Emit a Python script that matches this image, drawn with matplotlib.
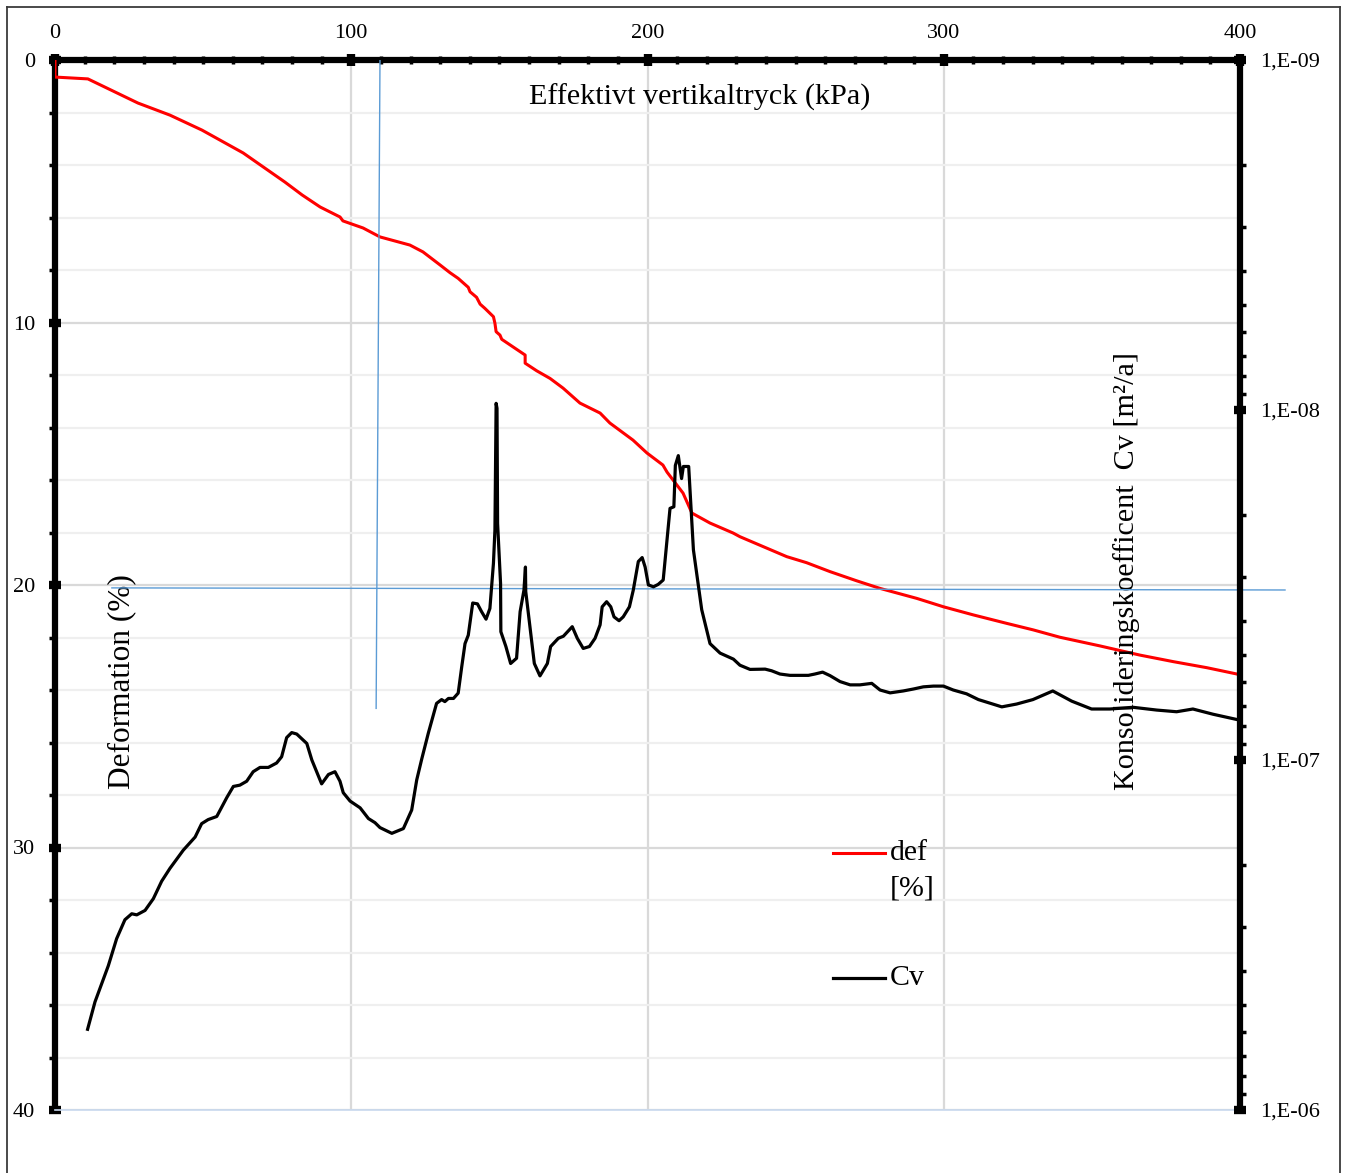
import numpy as np
import matplotlib
matplotlib.use("Agg")
import matplotlib.pyplot as plt
from matplotlib.lines import Line2D
from matplotlib.ticker import MultipleLocator, FixedLocator, FuncFormatter, LogLocator, NullFormatter

plt.rcParams['font.family'] = ['Liberation Serif', 'DejaVu Serif']

# deformation curve: effective vertical pressure (kPa) vs deformation (%)
p_def = [0, 0, 11.1, 28.0, 38.8, 49.6, 63.5, 77.6, 83.4, 89.5, 96.2, 97.2, 104.0, 109.7,
         119.8, 124.2, 130.0, 133.3, 136.1, 139.5, 140.1, 142.3, 143.5, 145.1, 148.0, 148.5,
         148.9, 150.2, 150.8, 155.8, 158.7, 158.7, 162.6, 167.1, 171.5, 177.2, 184.0, 187.3,
         195.1, 199.8, 205.2, 206.6, 212.0, 215.0, 221.1, 228.9, 231.2, 239.1, 247.0, 253.7,
         261.6, 270.6, 278.5, 290.9, 299.9, 310.0, 321.2, 330.2, 339.2, 352.7, 366.2, 377.5,
         388.8, 398.9, 400.0]
deformation = [0, 0.65, 0.72, 1.64, 2.10, 2.67, 3.54, 4.65, 5.14, 5.60, 5.98, 6.13, 6.40, 6.74,
               7.05, 7.31, 7.81, 8.10, 8.32, 8.66, 8.83, 9.04, 9.30, 9.46, 9.78, 10.03,
               10.35, 10.48, 10.64, 11.02, 11.24, 11.55, 11.84, 12.13, 12.50, 13.07, 13.45, 13.83,
               14.48, 14.97, 15.43, 15.70, 16.50, 17.26, 17.64, 18.02, 18.16, 18.54, 18.92, 19.15,
               19.49, 19.84, 20.13, 20.51, 20.83, 21.14, 21.46, 21.71, 21.99, 22.32, 22.67, 22.92,
               23.15, 23.39, 23.43]

# consolidation coefficient Cv (m2/a)
p_cv = [11.0, 13.5, 18.0, 20.8, 23.6, 25.9, 27.6, 30.4, 33.2, 36.0, 38.8, 40.5, 43.3, 47.3,
        49.5, 51.7, 54.6, 58.0, 60.2, 62.4, 64.7, 66.9, 69.2, 72.0, 74.8, 76.5, 78.2, 79.9,
        81.6, 85.0, 86.7, 90.0, 92.3, 94.5, 96.2, 97.3, 99.6, 103.0, 105.8, 108.0, 109.7,
        113.7, 117.6, 120.4, 122.1, 123.8, 126.0, 128.8, 130.5, 131.6, 132.8, 134.5, 136.1,
        137.3, 138.4, 139.5, 141.0, 142.6, 144.0, 145.5, 146.8, 148.0, 148.5, 148.9, 149.2,
        149.4, 150.4, 150.5, 152.2, 153.8, 155.8, 157.0, 158.3, 158.8, 158.9, 160.3, 161.8,
        163.7, 166.2, 167.3, 169.9, 171.6, 174.6, 176.3, 178.3, 180.4, 182.3, 184.0, 184.7,
        186.2, 187.6, 188.7, 190.4, 191.8, 193.9, 195.2, 196.9, 198.2, 199.2, 200.3, 202.0,
        203.6, 205.3, 206.5, 207.6, 208.9, 209.4, 210.4, 211.5, 212.1, 213.9, 215.5, 218.3,
        221.1, 224.5, 229.0, 231.2, 234.6, 239.7, 241.9, 244.7, 248.1, 254.3, 256.5, 259.1,
        261.6, 265.0, 268.4, 271.7, 275.7, 278.5, 281.9, 286.3, 289.7, 293.1, 296.5, 299.9,
        303.2, 307.7, 311.7, 319.6, 324.6, 330.1, 336.8, 343.2, 349.9, 356.1, 363.9, 371.9,
        378.6, 384.1, 390.9, 398.9, 400.0]
cv = [5.88e-7, 4.91e-7, 3.87e-7, 3.24e-7, 2.86e-7, 2.75e-7, 2.77e-7, 2.69e-7, 2.49e-7, 2.22e-7,
      2.04e-7, 1.95e-7, 1.81e-7, 1.66e-7, 1.52e-7, 1.48e-7, 1.45e-7, 1.28e-7, 1.19e-7, 1.18e-7,
      1.15e-7, 1.08e-7, 1.05e-7, 1.05e-7, 1.02e-7, 9.79e-8, 8.63e-8, 8.35e-8, 8.43e-8, 8.97e-8,
      1.00e-7, 1.17e-7, 1.10e-7, 1.08e-7, 1.15e-7, 1.24e-7, 1.31e-7, 1.37e-7, 1.47e-7, 1.51e-7,
      1.56e-7, 1.62e-7, 1.57e-7, 1.39e-7, 1.14e-7, 9.93e-8, 8.39e-8, 6.89e-8, 6.72e-8, 6.81e-8,
      6.67e-8, 6.67e-8, 6.44e-8, 5.41e-8, 4.65e-8, 4.40e-8, 3.56e-8, 3.58e-8, 3.77e-8, 3.96e-8,
      3.69e-8, 2.74e-8, 2.20e-8, 9.57e-9, 9.89e-9, 2.11e-8, 3.13e-8, 4.30e-8, 4.74e-8, 5.30e-8,
      5.12e-8, 3.77e-8, 3.27e-8, 2.81e-8, 3.30e-8, 4.16e-8, 5.30e-8, 5.75e-8, 5.30e-8, 4.74e-8,
      4.49e-8, 4.43e-8, 4.16e-8, 4.49e-8, 4.80e-8, 4.74e-8, 4.49e-8, 4.11e-8, 3.65e-8, 3.53e-8,
      3.65e-8, 3.90e-8, 4.00e-8, 3.90e-8, 3.65e-8, 3.27e-8, 2.71e-8, 2.64e-8, 2.81e-8, 3.16e-8,
      3.20e-8, 3.15e-8, 3.06e-8, 2.40e-8, 1.91e-8, 1.89e-8, 1.44e-8, 1.35e-8, 1.57e-8, 1.45e-8,
      1.45e-8, 2.51e-8, 3.72e-8, 4.65e-8, 4.95e-8, 5.15e-8, 5.36e-8, 5.51e-8, 5.50e-8, 5.56e-8,
      5.68e-8, 5.73e-8, 5.73e-8, 5.68e-8, 5.61e-8, 5.74e-8, 5.97e-8, 6.10e-8, 6.10e-8, 6.04e-8,
      6.31e-8, 6.43e-8, 6.35e-8, 6.27e-8, 6.18e-8, 6.15e-8, 6.15e-8, 6.31e-8, 6.47e-8, 6.72e-8,
      7.05e-8, 6.92e-8, 6.72e-8, 6.35e-8, 6.79e-8, 7.15e-8, 7.15e-8, 7.07e-8, 7.20e-8, 7.28e-8,
      7.15e-8, 7.40e-8, 7.66e-8, 7.69e-8]

# hand drawn blue helper lines (data units)
vline_x = [109.7, 108.4]
vline_y = [0, 24.7]
hline_x = [19.2, 415.2]
hline_y = [20.11, 20.19]

right_ticks = [1e-9, 1e-8, 1e-7, 1e-6]

W, H = 1346, 1173
fig = plt.figure(figsize=(W / 100, H / 100), dpi=100)
ax = fig.add_axes([55 / W, 1 - 1110 / H, 1185 / W, 1050 / H])

# outer frame
for xs, ys in [([7 / W, 7 / W], [0, 1 - 7 / H]), ([7 / W, 1340 / W], [1 - 7 / H, 1 - 7 / H]),
               ([1340 / W, 1340 / W], [0, 1 - 7 / H])]:
    fig.add_artist(Line2D(xs, ys, color='#3a3a3a', lw=1.3))

ax.set_xlim(0, 400)
ax.set_ylim(40, 0)
ax.xaxis.tick_top()
ax.xaxis.set_major_locator(MultipleLocator(100))
ax.xaxis.set_minor_locator(MultipleLocator(10))
ax.yaxis.set_major_locator(MultipleLocator(10))
ax.yaxis.set_minor_locator(MultipleLocator(2))

ax.grid(True, which='major', axis='both', color='#d9d9d9', lw=1.6, zorder=0)
ax.grid(True, which='minor', axis='y', color='#efefef', lw=1.6, zorder=0)
ax.set_axisbelow(True)

for s in ['top', 'left']:
    ax.spines[s].set_linewidth(4.5)
    ax.spines[s].set_color('black')
ax.spines['right'].set_visible(False)
ax.spines['bottom'].set_color('#c8d8ee')
ax.spines['bottom'].set_linewidth(1.2)

ax.tick_params(axis='x', which='major', direction='inout', length=9, width=6,
               labelsize=16, pad=8, top=True, bottom=False)
ax.tick_params(axis='x', which='minor', direction='inout', length=6, width=2.5,
               top=True, bottom=False)
ax.tick_params(axis='y', which='major', direction='inout', length=9, width=6,
               labelsize=16, pad=10)
ax.tick_params(axis='y', which='minor', direction='out', length=4, width=2.5)

ax.plot(p_def, deformation, color='#ff0000', lw=2.2, zorder=3)

ax.plot(vline_x, vline_y, color='#5b9bd5', lw=1.0, zorder=4)
ax.plot(hline_x, hline_y, color='#5b9bd5', lw=1.0, zorder=4, clip_on=False)

ax2 = ax.twinx()
ax2.set_yscale('log')
ax2.set_ylim(1e-6, 1e-9)
ax2.plot(p_cv, cv, color='black', lw=2.3, zorder=3)
for s in ['top', 'left', 'bottom']:
    ax2.spines[s].set_visible(False)
ax2.spines['right'].set_linewidth(4.5)
ax2.yaxis.set_major_locator(FixedLocator(right_ticks))
ax2.yaxis.set_minor_locator(LogLocator(base=10, subs=np.arange(2, 10)))
ax2.yaxis.set_minor_formatter(NullFormatter())
ax2.yaxis.set_major_formatter(FuncFormatter(lambda v, pos: '1,E-%02d' % round(-np.log10(v))))
ax2.tick_params(axis='y', which='major', direction='inout', length=9, width=6,
                labelsize=16, pad=10)
ax2.tick_params(axis='y', which='minor', direction='out', length=4, width=2.5)

# texts
ax.text(0.5443, 0.9648, 'Effektivt vertikaltryck (kPa)', transform=ax.transAxes,
        ha='center', va='center', fontsize=21.7)
ax.text(0.0565, 0.4076, 'Deformation (%)', transform=ax.transAxes, rotation=90,
        ha='center', va='center', fontsize=22.5)
ax.text(0.9046, 0.5133, 'Konsolideringskoefficent  Cv [m\u00b2/a]', transform=ax.transAxes,
        rotation=90, ha='center', va='center', fontsize=21.7)

# legend
ax.plot([0.6565, 0.7004], [0.2448, 0.2448], transform=ax.transAxes, color='#ff0000', lw=2.2)
ax.text(0.7046, 0.2448, 'def', transform=ax.transAxes, ha='left', va='center', fontsize=21.5)
ax.text(0.7046, 0.2105, '[%]', transform=ax.transAxes, ha='left', va='center', fontsize=21.5)
ax.plot([0.6565, 0.7004], [0.1257, 0.1257], transform=ax.transAxes, color='black', lw=2.3)
ax.text(0.7046, 0.1257, 'Cv', transform=ax.transAxes, ha='left', va='center', fontsize=21.5)

fig.savefig('out.png', dpi=100)
